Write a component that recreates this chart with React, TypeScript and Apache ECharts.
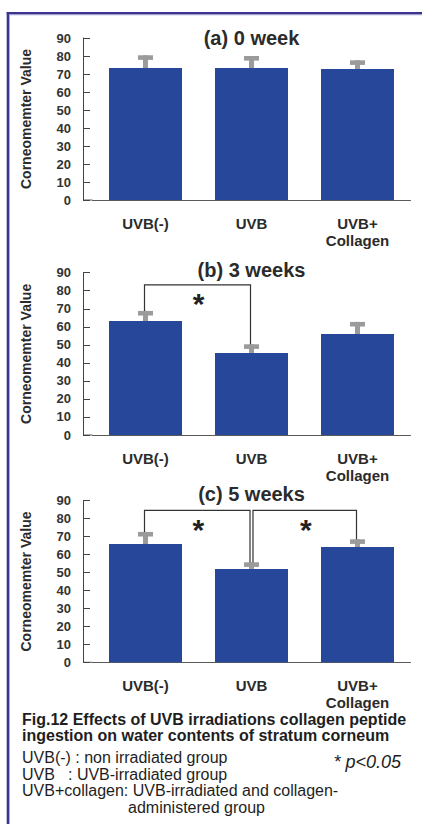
import React, { useEffect, useRef } from "react";
import * as echarts from "echarts";

const categories = ["UVB(-)", "UVB", "UVB+\nCollagen"];
const panelTitles = ["(a) 0 week", "(b) 3 weeks", "(c) 5 weeks"];
const week0Mean = [73.3, 73.3, 72.8];
const week0Sd = [7.1, 6.7, 4.8];
const week3Mean = [63.2, 45.5, 56.0];
const week3Sd = [5.6, 4.8, 6.7];
const week5Mean = [65.9, 52.0, 64.2];
const week5Sd = [6.7, 3.7, 4.3];
const week0Sig: number[][] = [];
const week3Sig = [[0, 1, 83.2]];
const week5Sig = [[0, 1, 84.6], [1, 2, 84.6]];
const yTicks = { min: 0, max: 90, interval: 10 };
const yName = "Corneomemter Value";
const captionBold = [
  "Fig.12 Effects of UVB irradiations collagen peptide",
  "ingestion on water contents of stratum corneum",
];
const captionLines = [
  ["UVB(-) : non irradiated group", ""],
  ["UVB", ": UVB-irradiated group"],
  ["UVB+collagen: UVB-irradiated and collagen-", ""],
  ["", "administered group"],
];
const pNote = "* p<0.05";

const FONT = "'Liberation Sans', Arial, Helvetica, sans-serif";
const BAR = "#27479a";
const ERR = "#9b9b9b";
const TXT = "#2b2b2b";

const panels = [
  { mean: week0Mean, sd: week0Sd, sig: week0Sig, top: 38, height: 162, titleY: 38 },
  { mean: week3Mean, sd: week3Sd, sig: week3Sig, top: 272.7, height: 162.3, titleY: 270 },
  { mean: week5Mean, sd: week5Sd, sig: week5Sig, top: 500.7, height: 161.6, titleY: 494 },
];

const GRID_LEFT = 92.5;
const GRID_W = 318;
const AXIS_X = 83;

export default function App() {
  const ref = useRef<HTMLDivElement>(null);
  useEffect(() => {
    if (!ref.current) return;
    const chart = echarts.init(ref.current, null, { renderer: "svg" });

    const grid: any[] = [];
    const xAxis: any[] = [];
    const yAxis: any[] = [];
    const series: any[] = [];
    const graphic: any[] = [];

    // frame
    graphic.push(
      { type: "rect", shape: { x: 6.7, y: 12, width: 416, height: 2.4 }, style: { fill: "#3a3490" }, silent: true },
      { type: "rect", shape: { x: 9.1, y: 14.4, width: 413, height: 0.9 }, style: { fill: "#a9a5d6" }, silent: true },
      { type: "rect", shape: { x: 6.7, y: 12, width: 2.4, height: 812 }, style: { fill: "#3a3490" }, silent: true },
      { type: "rect", shape: { x: 9.1, y: 14.4, width: 0.9, height: 810 }, style: { fill: "#a9a5d6" }, silent: true }
    );

    panels.forEach((p, gi) => {
      grid.push({ left: GRID_LEFT, top: p.top, width: GRID_W, height: p.height, containLabel: false });
      xAxis.push({
        type: "category",
        gridIndex: gi,
        data: categories,
        axisLine: { lineStyle: { color: "#5a5a5a", width: 1 } },
        axisTick: { show: false },
        axisLabel: {
          fontFamily: FONT,
          fontWeight: "bold",
          fontSize: 15,
          color: TXT,
          margin: 15,
          lineHeight: 17,
          interval: 0,
        },
      });
      yAxis.push({
        type: "value",
        gridIndex: gi,
        min: yTicks.min,
        max: yTicks.max,
        interval: yTicks.interval,
        offset: GRID_LEFT - AXIS_X,
        splitLine: { show: false },
        axisLine: { show: true, lineStyle: { color: "#444", width: 1 } },
        axisTick: { show: true, inside: true, length: 7, lineStyle: { color: "#444" } },
        axisLabel: { fontFamily: FONT, fontWeight: "bold", fontSize: 13, color: "#333", margin: 12 },
        name: yName,
        nameLocation: "middle",
        nameGap: 50,
        nameTextStyle: { fontFamily: FONT, fontWeight: "bold", fontSize: 14, color: TXT },
      });
      series.push({
        type: "bar",
        xAxisIndex: gi,
        yAxisIndex: gi,
        data: p.mean,
        barWidth: 73,
        itemStyle: { color: BAR },
      });
      const errData = p.mean.map((m, i) => [i, m, p.sd[i]]);
      series.push({
        type: "custom",
        xAxisIndex: gi,
        yAxisIndex: gi,
        data: errData,
        z: 5,
        renderItem: (params: any, api: any) => {
          const idx = api.value(0);
          const m = api.value(1);
          const s = api.value(2);
          const top = api.coord([idx, m + s]);
          const base = api.coord([idx, m]);
          return {
            type: "group",
            children: [
              { type: "rect", shape: { x: top[0] - 2.5, y: top[1], width: 5, height: base[1] - top[1] }, style: { fill: ERR } },
              { type: "rect", shape: { x: top[0] - 7.5, y: top[1], width: 15, height: 4.6 }, style: { fill: ERR } },
            ],
          };
        },
      });
      if (p.sig.length) {
        const shared = (k: number) => p.sig.filter((s) => s[0] === k || s[1] === k).length > 1;
        series.push({
          type: "custom",
          xAxisIndex: gi,
          yAxisIndex: gi,
          data: p.sig,
          z: 6,
          renderItem: (params: any, api: any) => {
            const a = api.value(0);
            const b = api.value(1);
            const lvl = api.value(2);
            const la = api.coord([a, p.mean[a] + p.sd[a]]);
            const lb = api.coord([b, p.mean[b] + p.sd[b]]);
            const line = api.coord([a, lvl]);
            const xa = la[0] + (shared(a) ? 1.5 : -1);
            const xb = lb[0] + (shared(b) ? -1.5 : -1);
            const yl = line[1];
            return {
              type: "group",
              children: [
                {
                  type: "polyline",
                  shape: { points: [[xa, la[1]], [xa, yl], [xb, yl], [xb, lb[1]]] },
                  style: { stroke: "#333", lineWidth: 1.2, fill: "none" },
                },
                {
                  type: "text",
                  x: (xa + xb) / 2 + 1,
                  y: yl + 19,
                  style: { text: "*", font: `bold 30px ${FONT}`, fill: "#222", align: "center", verticalAlign: "middle" },
                },
              ],
            };
          },
        });
      }
      // x-axis line extension to the y axis
      graphic.push({
        type: "line",
        shape: { x1: AXIS_X, y1: p.top + p.height, x2: GRID_LEFT, y2: p.top + p.height },
        style: { stroke: "#5a5a5a", lineWidth: 1 },
        silent: true,
      });
      graphic.push({
        type: "text",
        x: GRID_LEFT + GRID_W / 2,
        y: p.titleY,
        style: { text: panelTitles[gi], font: `bold 20px ${FONT}`, fill: TXT, align: "center", verticalAlign: "middle" },
      });
    });

    // caption
    const boldY = [719, 735.5];
    captionBold.forEach((t, i) => {
      graphic.push({
        type: "text",
        x: 22,
        y: boldY[i],
        style: {
          text: t,
          font: `bold 16px ${FONT}`,
          lineHeight: 16,
          fill: "#1e1e1e",
          align: "left",
          verticalAlign: "middle",
        },
      });
    });
    const lineY = [757.5, 774, 790.5, 807];
    captionLines.forEach((pair, i) => {
      if (pair[0]) {
        graphic.push({
          type: "text",
          x: 22,
          y: lineY[i],
          style: { text: pair[0], font: `16px ${FONT}`, lineHeight: 16, fill: "#1e1e1e", align: "left", verticalAlign: "middle" },
        });
      }
      if (pair[1]) {
        graphic.push({
          type: "text",
          x: i === 3 ? 128 : 68,
          y: lineY[i],
          style: { text: pair[1], font: `16px ${FONT}`, lineHeight: 16, fill: "#1e1e1e", align: "left", verticalAlign: "middle" },
        });
      }
    });
    graphic.push({
      type: "text",
      x: 401,
      y: 762,
      style: { text: pNote, font: `italic 18px ${FONT}`, lineHeight: 18, fill: "#1e1e1e", align: "right", verticalAlign: "middle" },
    });

    chart.setOption({
      animation: false,
      backgroundColor: "#ffffff",
      grid,
      xAxis,
      yAxis,
      series,
      graphic,
    });
    return () => chart.dispose();
  }, []);
  return <div ref={ref} style={{ position: "absolute", left: 0, top: 0, width: 422, height: 824 }} />;
}
